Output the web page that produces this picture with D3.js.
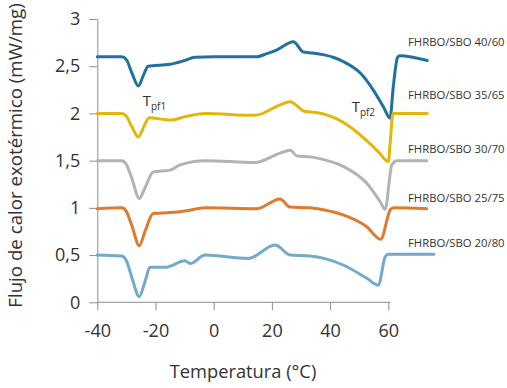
<!DOCTYPE html>
<html><head><meta charset="utf-8">
<script src="https://cdn.jsdelivr.net/npm/d3@7"></script>
<style>
body{margin:0;background:#fff;}
text{font-family:"Open Sans",sans-serif;}
</style></head>
<body><svg id="c" width="507" height="388"></svg>
<script>
// ---- data ----
const seriesNames = ["FHRBO/SBO 40/60","FHRBO/SBO 35/65","FHRBO/SBO 30/70","FHRBO/SBO 25/75","FHRBO/SBO 20/80"];
const t4060 = [-40,-31.6,-30,-28,-25.9,-24.2,-22.5,-15,-10,-6.4,0,14.8,18,21.6,27.4,30.8,34,38,41.5,44.5,50.3,54.8,58.3,60.6,61.7,63.2,64,73.4];
const v4060 = [2.60,2.60,2.57,2.42,2.29,2.40,2.50,2.52,2.56,2.595,2.60,2.60,2.63,2.67,2.76,2.65,2.64,2.62,2.59,2.55,2.43,2.25,2.07,1.95,2.28,2.595,2.61,2.56];
const t3565 = [-40,-31.6,-30,-28,-25.9,-24,-22.2,-15,-9.3,-3,14.2,22.8,26.2,31.4,35,38.8,42.5,46.8,53.7,57,60,60.8,61.6,73.4];
const v3565 = [2.00,2.00,1.97,1.85,1.75,1.86,1.955,1.93,1.97,2.00,1.98,2.09,2.125,2.02,2.01,1.985,1.94,1.86,1.68,1.58,1.49,1.75,2.00,2.00];
const t3070 = [-40,-31.6,-30,-28,-25.6,-23.5,-20.8,-15,-11.6,-3,14.2,22.8,26.3,28.6,33.1,38.5,44.5,52.6,57.2,58.9,61.2,62.9,73.2];
const v3070 = [1.50,1.50,1.46,1.30,1.10,1.22,1.38,1.40,1.455,1.50,1.48,1.58,1.61,1.55,1.54,1.505,1.44,1.26,1.065,0.985,1.455,1.50,1.50];
const t2575 = [-40,-31.6,-30,-28,-25.6,-23.5,-20.8,-15,-9.3,-3,14.8,22.8,26.2,33.1,38.5,44.5,52.6,57.4,60.8,62,73.2];
const v2575 = [0.99,1.00,0.96,0.80,0.60,0.76,0.94,0.95,0.97,1.00,0.99,1.095,1.01,1.00,0.975,0.925,0.80,0.667,0.985,1.00,0.99];
const t2080 = [-40,-31.6,-30,-28,-25.6,-23.6,-21.9,-16.7,-9.9,-8.1,-3,11.9,21.1,26.3,33.1,38.5,44.5,52.6,56.6,58.9,60,75.7];
const v2080 = [0.50,0.49,0.44,0.25,0.06,0.22,0.37,0.37,0.44,0.41,0.50,0.465,0.607,0.50,0.49,0.46,0.395,0.254,0.18,0.48,0.51,0.51];
const labelValues = [2.755, 2.20, 1.62, 1.10, 0.625];
const xTicks = [-40,-20,0,20,40,60];
const yTicks = [0,0.5,1,1.5,2,2.5,3];
const colors = ["#21709f","#e3b60c","#b3b3b3","#e07a2d","#73a9c9"];

const temps = [t4060,t3565,t3070,t2575,t2080];
const vals = [v4060,v3565,v3070,v2575,v2080];

// ---- chart ----
const svg = d3.select("#c");
const x = d3.scaleLinear().domain([-40,60]).range([97.3,388.3]);
const y = d3.scaleLinear().domain([0,3]).range([302.3,19]);
const fmt = d => String(d).replace(".", ",");

const gx = svg.append("g").attr("transform",`translate(0,${y(0)})`)
  .call(d3.axisBottom(x).tickValues(xTicks).tickSize(8).tickPadding(14).tickFormat(fmt).tickSizeOuter(0));
gx.select(".domain").attr("d",`M${x(-40)},0H${x(60.8)}`);
const gy = svg.append("g").attr("transform",`translate(${x(-40)},0)`)
  .call(d3.axisLeft(y).tickValues(yTicks).tickSize(8).tickPadding(9).tickFormat(fmt).tickSizeOuter(0));
[gx,gy].forEach(g=>{
  g.selectAll(".domain,.tick line").attr("stroke","#8c8c8c").attr("stroke-width",1);
  g.selectAll("text").attr("fill","#333").style("font-size","18px").style("font-family","'Open Sans',sans-serif");
});

const line = d3.line().x(d=>x(d[0])).y(d=>y(d[1])).curve(d3.curveMonotoneX);
temps.forEach((ts,i)=>{
  const pts = ts.map((t,j)=>[t,vals[i][j]]);
  svg.append("path").attr("d",line(pts)).attr("fill","none")
    .attr("stroke",colors[i]).attr("stroke-width",3).attr("stroke-linejoin","round").attr("stroke-linecap","round");
});

seriesNames.forEach((n,i)=>{
  svg.append("text").attr("x",408).attr("y",y(labelValues[i])).attr("dy","0.35em")
    .attr("fill","#333").style("font-size","11.3px").text(n);
});

function tlabel(px,py,sub){
  const t = svg.append("text").attr("x",px).attr("y",py).attr("fill","#333").style("font-size","15px");
  t.append("tspan").text("T");
  t.append("tspan").attr("dy",4).style("font-size","10px").text(sub);
}
tlabel(x(-24.4), y(2.08), "pf1");
tlabel(x(47.4), y(2.02), "pf2");

svg.append("text").attr("x",243).attr("y",378).attr("text-anchor","middle")
  .attr("fill","#333").style("font-size","18.3px").text("Temperatura (°C)");
svg.append("text").attr("transform","translate(22,155.5) rotate(-90)").attr("text-anchor","middle")
  .attr("fill","#333").style("font-size","18.7px").text("Flujo de calor exotérmico (mW/mg)");
</script></body></html>
